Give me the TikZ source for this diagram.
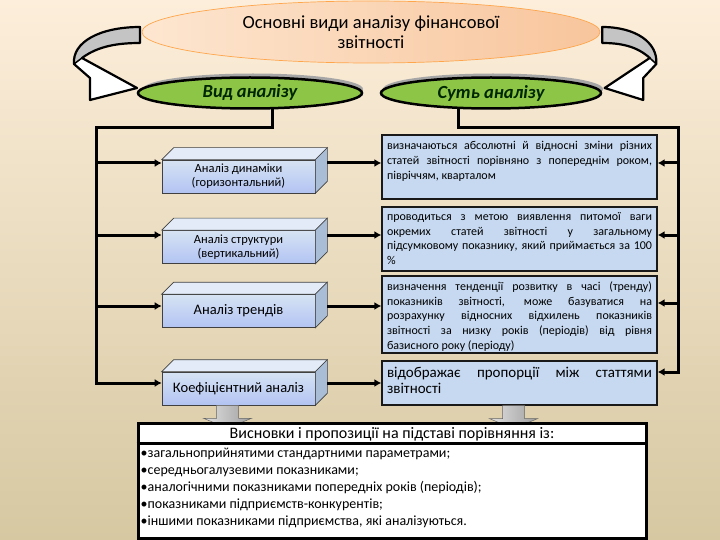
\documentclass[tikz,border=0pt]{standalone}
\usepackage{fontspec}
\setmainfont{Carlito}
\usetikzlibrary{calc,arrows.meta,shapes.geometric}

\definecolor{fonoben}{HTML}{FCEEDA}
\definecolor{fonunten}{HTML}{D6C8A1}
\definecolor{pfirsich}{HTML}{F8C59C}
\definecolor{pfirsichhell}{HTML}{FDE6D0}
\definecolor{gruen}{HTML}{8DC646}
\definecolor{blaufeld}{HTML}{C6D9F1}
\definecolor{blauhell}{HTML}{D6E3F3}
\definecolor{blaudunkel}{HTML}{A9BDD6}
\definecolor{bandgrau}{HTML}{C4C4C4}

\tikzset{
  conn/.style={line width=3pt,-{Latex[length=7pt,width=8pt]}},
  trunk/.style={line width=3pt,line cap=rect},
  titel/.style={ellipse,draw=orange!70!white,line width=0.7pt,left color=pfirsichhell,right color=pfirsich,
    minimum width=458pt,minimum height=62pt,inner sep=0pt,align=center,font=\fontsize{18.5}{20}\selectfont},
  oval/.style={ellipse,draw=black,line width=2.5pt,fill=gruen,minimum width=220pt,minimum height=31pt,
    inner sep=0pt,font=\fontsize{18.5}{18}\selectfont\bfseries\itshape,text=black!85!green},
  schatten/.style={ellipse,fill=black!35,minimum width=220pt,minimum height=31pt,inner sep=0pt},
  quader/.style={rectangle,draw=black!75,line width=0.6pt,top color=blauhell,bottom color=blaufeld!90!blue,
    minimum width=153pt,minimum height=33pt,inner sep=0pt,align=center},
  deckel/.style={draw=black!75,line width=0.6pt,fill=blauhell!70!white},
  seite/.style={draw=black!75,line width=0.6pt,fill=blaudunkel},
  feld/.style={rectangle,draw=black!90,line width=1.3pt,fill=blaufeld,minimum width=275pt,inner xsep=5pt,inner ysep=6pt},
  blockpfeil/.style={draw=black!60,line width=0.5pt,left color=black!12,right color=black!38},
}

\newcommand{\wirbel}{%
  \fill[white] (140,27) .. controls (100,27) and (72,42) .. (74,64) -- (90,78) -- (90,100) -- (137,88) -- (82,58)
    .. controls (98,46) and (118,43) .. (140,43) -- cycle;
  \fill[bandgrau] (140,27) .. controls (100,27) and (72,42) .. (74,64) -- (82,58)
    .. controls (98,46) and (118,43) .. (140,43) -- cycle;
  \draw[line width=2.2pt,line join=round] (140,27) .. controls (100,27) and (72,42) .. (74,64) -- (90,78) -- (90,100)
    -- (137,88) -- (82,58) .. controls (98,46) and (118,43) .. (140,43) -- cycle;
  \draw[line width=1.5pt] (74,64) -- (82,58);
}

\begin{document}
\begin{tikzpicture}[x=1pt,y=-1pt]
\shade[top color=fonoben,bottom color=fonunten] (0,0) rectangle (720,540);
\useasboundingbox (0,0) rectangle (720,540);

% Drehpfeile links und rechts
\wirbel
\begin{scope}[shift={(717,0)},xscale=-0.82]
\wirbel
\end{scope}

\node[titel] (tit) at (371,32) {Основні види аналізу фінансової\\звітності};

\node[schatten] (vids) at (253,89) {};
\node[schatten] (suts) at (493,89) {};
\node[oval,minimum width=224pt] (vid) at (250,93) {Вид аналізу};
\node[oval] (sut) at (491,93) {Суть аналізу};

% Quader links
\node[quader,font=\fontsize{12.5}{14}\selectfont] (b1) at (238.5,176.5) {Аналіз динаміки\\(горизонтальний)};
\node[quader,font=\fontsize{12.5}{14}\selectfont] (b2) at (238.5,247) {Аналіз структури\\(вертикальний)};
\node[quader,font=\fontsize{14.5}{15}\selectfont] (b3) at (238.5,311) {Аналіз трендів};
\node[quader,font=\fontsize{14.5}{15}\selectfont] (b4) at (238.5,388.5) {Коефіцієнтний аналіз};
\foreach \b in {b1,b2,b3,b4} {
  \filldraw[deckel] (\b.north west) -- ++(12,-12) -- ($(\b.north east)+(12,-12)$) -- (\b.north east) -- cycle;
  \filldraw[seite] (\b.north east) -- ++(12,-12) -- ($(\b.south east)+(12,-12)$) -- (\b.south east) -- cycle;
}

% Felder rechts
\node[feld] (r1) at (519.5,167) {\parbox[c][52pt][t]{265pt}{\fontsize{12}{15}\selectfont
  визначаються абсолютні й відносні зміни різних\linebreak статей звітності порівняно з попереднім роком,\linebreak півріччям, кварталом}};
\node[feld] (r2) at (519.5,239) {\parbox[c][52pt][t]{265pt}{\fontsize{12}{14.5}\selectfont
  проводиться з метою виявлення питомої ваги\linebreak окремих статей звітності у загальному\linebreak підсумковому показнику, який приймається за 100\linebreak \%}};
\node[feld] (r3) at (519.5,314.5) {\parbox[c][65pt][t]{265pt}{\fontsize{12}{14.6}\selectfont
  визначення тенденції розвитку в часі (тренду)\linebreak показників звітності, може базуватися на\linebreak розрахунку відносних відхилень показників\linebreak звітності за низку років (періодів) від рівня\linebreak базисного року (періоду)}};
\node[feld] (r4) at (519.5,383) {\parbox[c][32pt][t]{265pt}{\fontsize{15}{16}\selectfont
  відображає пропорції між статтями\linebreak звітності}};

% Verbindungen
\coordinate (lc) at (96,128);
\coordinate (rc) at (678,128);
\foreach \i/\yl/\yr in {1/163/163,2/235/235,3/306/303,4/383/372} {
  \coordinate (ly\i) at (96,\yl);
  \coordinate (ry\i) at (678,\yr);
}
\draw[trunk] ($(vid.south)+(22,0)$) |- (lc) -- (ly4);
\draw[trunk] ($(sut.south)+(-33,0)$) |- (rc) -- (ry4);
\foreach \i in {1,2,3,4} {
  \draw[conn] (ly\i) -- (ly\i -| b\i.west);
  \draw[conn] ($(ly\i -| b\i.east)+(12,0)$) -- (ly\i -| r\i.west);
  \draw[conn] (ry\i) -- (ry\i -| r\i.east);
}

% Blockpfeile nach unten
\foreach \n/\dx in {b4/-11,r4/-6} {
  \coordinate (ar\n) at ($(\n.south)+(\dx,0)$);
  \draw[blockpfeil] ($(ar\n)+(-11,0)$) -- ++(0,13) -- ++(-13,0) -- ++(24,10) -- ++(24,-10) -- ++(-13,0) -- ++(0,-13) -- cycle;
}

% Schlussfolgerungen
\node[rectangle,draw,line width=3pt,fill=white,minimum width=508pt,minimum height=115pt] (vis) at (392,480.5) {};
\draw[line width=2.5pt] ($(vis.north west)+(0,22)$) -- ($(vis.north east)+(0,22)$);
\node[font=\fontsize{16}{17}\selectfont] (vish) at ($(vis.north)+(0,13)$) {Висновки і пропозиції на підставі порівняння із:};
\node[anchor=north west,align=left,inner sep=0pt,font=\fontsize{14}{17}\selectfont] (visl) at ($(vis.north west)+(4,26)$)
  {\textbullet загальноприйнятими стандартними параметрами;\\
   \textbullet середньогалузевими показниками;\\
   \textbullet аналогічними показниками попередніх років (періодів);\\
   \textbullet показниками підприємств-конкурентів;\\
   \textbullet іншими показниками підприємства, які аналізуються.};
\end{tikzpicture}
\end{document}
